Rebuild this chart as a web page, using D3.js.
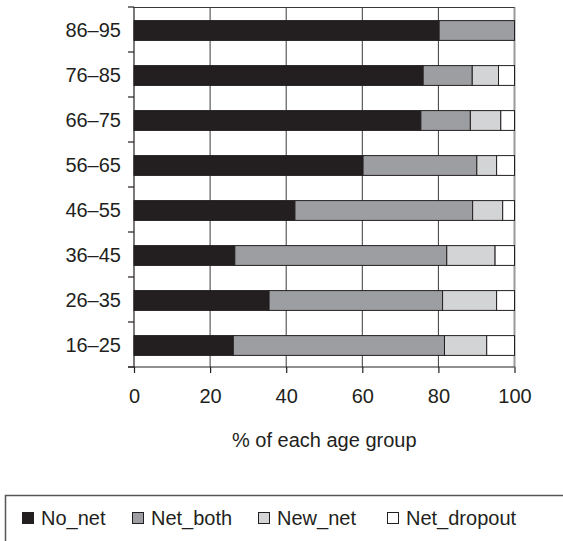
<!DOCTYPE html>
<html><head><meta charset="utf-8">
<script src="https://cdn.jsdelivr.net/npm/d3@7"></script>
<style>
body{margin:0;background:#fff;}
text{font-family:"Liberation Sans",Arial,sans-serif;fill:#231f20;}
</style></head>
<body><svg id="c" width="563" height="541"></svg>
<script>
const categories = ["86–95","76–85","66–75","56–65","46–55","36–45","26–35","16–25"];
const seriesNames = ["No_net","Net_both","New_net","Net_dropout"];
const noNet      = [80.2, 76.0, 75.4, 60.2, 42.3, 26.5, 35.5, 26.1];
const netBoth    = [19.8, 12.9, 13.0, 29.9, 46.7, 55.7, 45.6, 55.5];
const newNet     = [0,     6.9,  8.0,  5.2,  7.9, 12.7, 14.2, 11.1];
const netDropout = [0,     4.2,  3.6,  4.7,  3.1,  5.1,  4.7,  7.3];
const xTicks = [0,20,40,60,80,100];
const colors = ["#231f20","#9d9ea1","#d3d4d5","#ffffff"];
const xTitle = "% of each age group";

const svg = d3.select("#c");
const x = d3.scaleLinear().domain([0,100]).range([134,514.5]);
const y = d3.scaleBand().domain(categories).range([7,367]).paddingInner(0.56).paddingOuter(0.28);

const rows = categories.map((c,i)=>({cat:c, No_net:noNet[i], Net_both:netBoth[i], New_net:newNet[i], Net_dropout:netDropout[i]}));
const stack = d3.stack().keys(seriesNames)(rows);

// gridlines
svg.append("g").selectAll("line").data(xTicks.filter(t=>t>0 && t<100)).join("line")
  .attr("x1",d=>x(d)).attr("x2",d=>x(d)).attr("y1",y.range()[0]).attr("y2",y.range()[1])
  .attr("stroke","#3a3a3a").attr("stroke-width",1);
// right border
svg.append("line").attr("x1",x(100)).attr("x2",x(100)).attr("y1",7).attr("y2",367)
  .attr("stroke","#9a9a9a").attr("stroke-width",2);
// top border
svg.append("line").attr("x1",x(0)).attr("x2",x(100)).attr("y1",7.5).attr("y2",7.5)
  .attr("stroke","#3a3a3a").attr("stroke-width",1);

// bars
const gBars = svg.append("g");
stack.forEach((s,k)=>{
  gBars.append("g").selectAll("rect").data(s.filter(d=>d[1]-d[0]>0)).join("rect")
    .attr("x",d=>x(d[0])).attr("width",d=>x(d[1])-x(d[0]))
    .attr("y",d=>y(d.data.cat)+1).attr("height",y.bandwidth())
    .attr("fill",colors[k]).attr("stroke","#231f20").attr("stroke-width",1);
});

// x axis
const xAxis = d3.axisBottom(x).tickValues(xTicks).tickSize(6).tickPadding(16).tickFormat(d3.format("d"));
const gx = svg.append("g").attr("transform","translate(0,367)").call(xAxis);
gx.select(".domain").remove();
gx.selectAll(".tick line").attr("stroke","#231f20").attr("stroke-width",1.2);
gx.selectAll("text").attr("font-size",20).style("font-family","Liberation Sans, Arial, sans-serif").attr("fill","#231f20");
gx.append("line").attr("x1",128).attr("x2",x(100)).attr("y1",0).attr("y2",0).attr("stroke","#231f20").attr("stroke-width",1.2);

// y axis
const step = y.step();
const bounds = categories.map(c=>y(c)-y.paddingInner()*step/2).concat([y.range()[1]]);
const gy = svg.append("g");
gy.append("line").attr("x1",x(0)).attr("x2",x(0)).attr("y1",7).attr("y2",367).attr("stroke","#231f20").attr("stroke-width",1.2);
gy.selectAll("line.t").data(bounds).join("line").attr("class","t")
  .attr("x1",x(0)-6).attr("x2",x(0)).attr("y1",d=>d).attr("y2",d=>d)
  .attr("stroke","#231f20").attr("stroke-width",1.2);
gy.selectAll("text").data(categories).join("text")
  .attr("x",x(0)-13).attr("y",d=>y(d)+y.bandwidth()/2)
  .attr("dy","0.35em").attr("text-anchor","end").attr("font-size",20).text(d=>d);

// x title
svg.append("text").attr("x",(x(0)+x(100))/2).attr("y",447).attr("text-anchor","middle")
  .attr("font-size",20).text(xTitle);

// legend
svg.append("rect").attr("x",5.5).attr("y",495.5).attr("width",600).attr("height",80)
  .attr("fill","none").attr("stroke","#555").attr("stroke-width",1.5);
const legX = [22,132,258,387];
const lg = svg.append("g").selectAll("g").data(seriesNames).join("g")
  .attr("transform",(d,i)=>`translate(${legX[i]},0)`);
lg.append("rect").attr("x",0.5).attr("y",512.5).attr("width",11).attr("height",11)
  .attr("fill",(d,i)=>colors[i]).attr("stroke","#231f20").attr("stroke-width",1);
lg.append("text").attr("x",19).attr("y",524.5).attr("font-size",20).text(d=>d);
</script></body></html>
